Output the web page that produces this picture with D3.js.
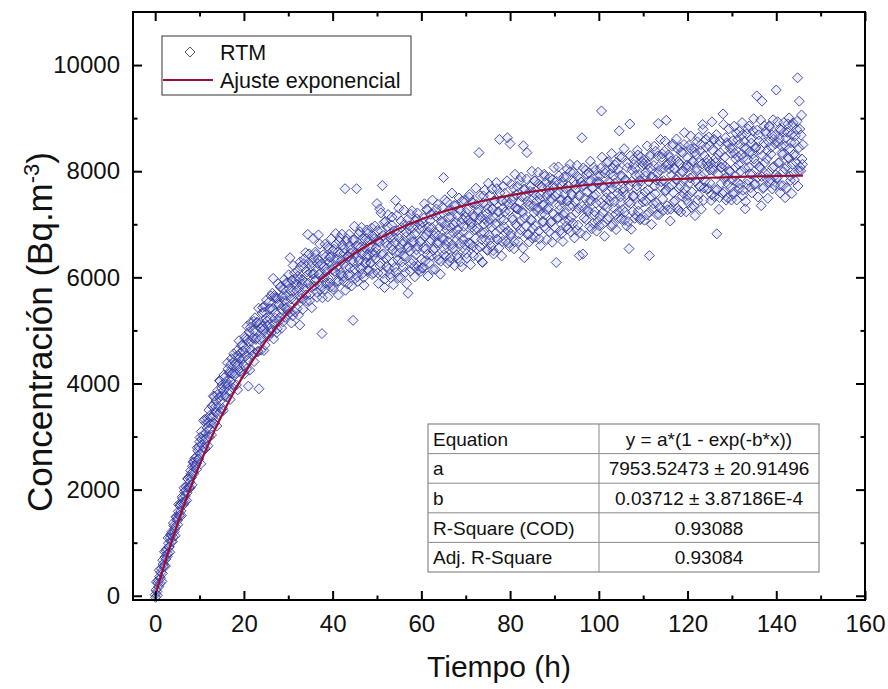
<!DOCTYPE html>
<html>
<head>
<meta charset="utf-8">
<title>RTM - ajuste exponencial</title>
<script src="https://d3js.org/d3.v7.min.js"></script>
<style>
  body { margin: 0; background: #fff; }
  text { font-family: "Liberation Sans", Arial, sans-serif; fill: #111; }
</style>
</head>
<body>
<svg id="chart" width="888" height="689"></svg>
<script>
// RTM readings, one array per 10 h block.
// A readings sit at 0.0, 0.2, 0.4 ... h, B readings half-way between (0.1, 0.3 ...)
var timeStep = 0.2;
var concA00 = [20,110,80,240,170,360,330,510,420,600, 570,730,690,880,800,990,920,1090,1020,1210,
  1110,1320,1260,1300,1480,1420,1590,1510,1690,1600, 1750,1830,1720,1960,1880,2050,1940,2200,2030,2140,
  2360,2230,2440,2340,2520,2430,2610,2500,2730,2570];
var concA10 = [2900,2677,3094,2841,3018,2775,3322,3069,2966,3343, 3260,2990,3400,3240,3580,3370,3260,3760,3560,3460,
  3790,3415,3740,4045,3680,3915,3530,3865,4110,3775, 4040,3943,4276,3859,4192,4045,4468,4191,3984,4417,
  4190,4508,4326,3880,4522,4470,4288,4716,4454,4612];
var concA20 = [4350,4885,4650,4275,4830,3950,4970,4635,5150,4625, 4860,5173,4566,4989,4852,5145,4608,3900,5134,5037,
  4860,5431,5012,5343,4724,5235,5176,4937,5528,5109, 5410,4960,5700,5980,5130,5620,5330,4960,5600,5510,
  5180,5818,5396,5634,5162,5770,5558,5416,5894,5382];
var concA30 = [5300,5787,6370,5591,5948,5275,5752,6079,5546,5873, 5410,6022,5794,5100,6208,5700,5952,5584,6346,5908,
  5670,6102,6810,6276,5558,6090,5812,6274,6730,6068, 5930,6430,5720,6260,6800,6060,6240,5830,4940,5980,
  6200,5779,6388,6107,6586,5985,6294,5893,6382,6231];
var concA40 = [6500,5817,6324,6091,6628,6205,6482,5929,6746,6083, 6320,6607,6022,6458,7670,6200,6726,5872,6398,6594,
  6040,6525,6330,5190,6710,6155,6460,7670,6010,6585, 6310,6855,6160,6435,6740,5995,6560,6265,6730,6385,
  6830,6125,6560,6265,6930,6465,6080,6725,6350,6555];
var concA50 = [7390,6083,6687,7290,6263,6867,7730,6443,7036,5970, 6653,6206,6960,6393,6806,6060,6593,7136,6290,6753,
  6186,7450,6474,6878,5992,6736,6550,7064,6288,6682, 6406,7000,6094,6848,6562,5700,6970,6494,7188,6262,
  6666,6931,6206,6821,6426,7101,6586,6141,6996,6671];
var concA60 = [6340,6935,6179,7114,6768,6533,7278,6432,6857,6271, 7066,6701,6935,6150,7204,6549,6844,7288,6403,6787,
  6652,7167,6301,7036,6740,7880,6530,6985,6400,7425, 6680,7135,6300,6935,7270,6615,6840,7355,6520,7035,
  6420,7155,6800,7275,6290,7025,7440,6715,6960,6615];
var concA70 = [7140,6445,7280,6786,7511,6626,7041,6946,7402,6407, 7142,6737,7372,6918,7273,8350,6573,7138,6714,6280,
  7534,6839,7094,7370,6525,7290,7016,6702,7538,6944, 7280,6506,7442,7128,6834,7670,6706,7232,8600,6914,
  7450,6676,7302,7078,7584,6840,7436,8630,6648,7254];
var concA80 = [8520,6824,7448,7082,7676,6670,7314,7558,6972,7286, 6820,7824,7068,7522,7216,8480,6370,7658,6962,8350,
  7430,6814,7348,7712,7076,6740,7603,7216,7820,6963, 7436,7309,7762,6726,7559,7182,7705,7058,7362,7905,
  6918,7531,7284,7698,6861,7614,7447,7050,7844,7187];
var concA90 = [7690,6933,6280,7578,7131,7914,7277,7460,6822,7805, 7178,7561,7054,7896,7439,6912,7715,7348,7990,7133,
  7546,7019,7812,7424,7667,6890,7903,7296,6410,7543, 7796,8630,6440,7736,7289,8022,7085,7608,7242,7965,
  7448,7811,6914,7688,7531,7174,8017,7400,7804,7057];
var concA100 = [7800,7154,8057,9135,6994,7688,7352,7965,7499,8162, 7096,7800,7443,7957,6960,7674,8058,7301,7775,7188,
  8162,7586,7109,8760,7916,7410,8264,7278,7672,7076, 7840,7554,8068,7052,6540,8890,7394,7808,7242,8226,
  7530,8054,7168,7722,8306,7370,7924,7108,7812,8176];
var concA110 = [7420,8204,7608,7982,7176,8130,7804,6410,8282,7516, 7880,7294,8108,7722,8376,7400,7954,8900,7182,8016,
  7710,8264,7478,7822,8376,7620,8960,7348,8132,7696, 8260,7284,7928,8472,7596,8050,7444,8218,7842,8416,
  7260,8144,7718,8362,7526,7990,8504,7658,8062,7466];
var concA120 = [8250,7404,8088,7872,8416,7610,8184,7348,8362,7806, 8000,8554,7558,8162,7716,8500,7904,8880,7452,8296,
  7820,8454,7658,8092,8646,7780,8144,7558,8402,8016, 8600,7654,8248,6820,7946,8500,7504,8348,7772,8136,
  9080,7604,8268,8632,7896,7500,8514,8018,8432,7696];
var concA130 = [7840,8573,7606,8340,8073,8716,7789,8272,7676,8509, 8002,8675,7538,8252,8565,7290,8431,7754,8798,8081,
  8364,7687,8530,7944,8757,8230,7763,8456,9420,7883, 8686,8089,8412,7350,9320,7672,8535,8158,8752,7865,
  8388,7961,8854,7788,8321,8684,8067,8600,7734,8517];
var concA140 = [9530,7882,8543,8165,8797,7729,8470,8312,7994,8735, 7500,8629,8090,8892,8244,8426,7827,8689,8131,8912,
  7964,8536,8297,8789,9760,8000,9320,8076,8678,8229,8501];

var concB00 = [-30,260,10,290,480,230,440,270,670,550, 830,560,840,740,1090,920,820,1160,1140,1020,
  1370,1210,1130,1490,1440,1340,1720,1510,1720,1510, 1865,1765,2035,1775,1985,1795,2205,2045,2235,2035,
  2300,2090,2520,2300,2580,2460,2380,2790,2580,2800];
var concB10 = [2982,2487,2952,2727,3302,2947,2772,3247,3162,2827, 3500,3140,3360,3030,3570,3760,3240,3470,3670,3200,
  3867,3562,4057,3462,3767,3972,3487,4162,3757,3992, 3746,4389,3972,4215,3698,4361,4184,3917,4560,4153,
  4374,3972,4620,4358,4806,4234,4582,4190,4728,4476];
var concB20 = [4182,4847,4522,5077,4452,4787,4252,5057,4802,4527, 4991,4414,5237,4830,5153,4596,5419,4832,5055,4628,
  5330,5081,4622,5453,4944,5575,5096,4887,5408,5219, 5650,5020,5400,4840,5660,5230,5610,5030,5880,5480,
  5249,5827,5045,5653,5461,5959,5247,5655,5433,5901];
var concB30 = [6048,5335,5742,5139,5946,6223,5580,5347,5954,5751, 6126,5288,5960,6292,5604,5876,5398,6260,5782,6464,
  5556,6048,5890,6442,5684,6206,5428,6060,6362,5834, 6475,5965,5625,6335,6055,6625,5775,6255,5615,6425,
  6005,6624,5893,6172,5631,6550,6379,5818,6727,6146];
var concB40 = [5774,6531,6118,6825,5922,6349,5666,6683,6450,6037, 6813,6259,5925,6541,5757,6683,6389,6045,6811,6177,
  6453,5838,6703,6288,6963,5978,6593,6378,5923,6818, 6173,6568,6943,6068,6463,5853,6703,6288,6893,6428,
  6143,6718,6273,6578,6053,6778,6413,6968,6473,6698];
var concB50 = [6882,5885,6659,6212,7215,6428,6072,6785,5808,7052, 6355,6598,7182,6165,6748,5992,6985,6518,5861,6875,
  6658,6092,7166,6330,7304,6458,5992,6936,6630,6194, 7268,6392,6766,5880,7094,6568,6912,6116,6760,7254,
  6318,6673,6008,7063,6518,7213,6208,6913,6678,6113];
var concB60 = [6172,7037,6551,7386,6310,6805,7280,6024,6949,6673, 7188,6413,7457,6512,6786,6151,7156,6650,7375,6329,
  6944,6059,7063,7318,6712,6427,7462,6616,6901,6265, 7250,6815,6369,7144,7588,6543,6988,6222,7347,6701,
  6896,6361,7495,6640,7254,6199,7094,6848,7453,6517];
var concB70 = [7223,6368,7073,6649,7564,6239,7004,7419,6585,7150, 6895,7680,6535,7231,6376,7091,7536,6841,6287,7402,
  7007,7642,6707,7193,6508,7773,6799,7105,6591,7667, 7293,6439,7445,7001,7787,6723,7239,6555,7591,7107,
  6403,7439,7715,6951,7237,6673,7819,6875,7371,6577];
var concB80 = [6782,7756,7120,7524,6538,7942,6996,7290,7714,6678, 7412,6896,7890,7244,6548,7662,7116,7530,7854,6808,
  7372,6666,7620,7094,7998,6921,7344,7817,6761,7544, 7257,7980,6874,7477,6600,7713,7366,7040,7943,7176,
  7789,6712,7566,7319,7882,7035,7488,6662,7725,8068];
var concB90 = [7531,6784,7807,7109,8082,7355,6878,7731,7463,6676, 7889,7222,7675,6967,8040,7443,7066,8129,6851,7574,
  7347,7980,6743,7745,7218,8111,6984,7537,7861,6834, 7717,7340,8063,7117,7490,6783,7946,7279,7813,6956,
  8189,7442,7675,7019,8072,7235,7558,6871,7905,7768];
var concB100 = [6972,7916,7409,8263,7226,7700,6774,8027,7601,7314, 8178,7132,7785,7519,8332,6986,7910,7423,8117,6900,
  7694,8038,7241,8275,7518,7092,7906,7610,8424,7228, 7822,6966,8150,7414,7718,8292,6906,8020,7534,8128,
  7112,7926,7660,8394,7248,7822,7086,8270,7514,8098];
var concB110 = [8142,7076,7910,7434,8478,7652,7226,8060,8314,6998, 7892,7386,8470,7574,7834,7182,8286,8090,7314,8598,
  7802,8326,7260,8054,8568,7642,8126,7274,8310,8044, 7062,8190,7738,8512,7426,8034,7848,8606,7302,8178,
  7682,8448,7232,7994,8348,7582,8726,7850,7234,8118];
var concB120 = [7542,8486,7780,8665,7318,8182,7906,8430,7164,8318, 8052,7456,8641,7716,8380,7284,8138,8790,7684,7958,
  8602,8156,8220,7672,8478,8022,7446,8930,8066,8598, 7522,8166,8690,7654,8318,7282,8566,8070,8074,7578,
  8882,7856,8090,7454,8538,7762,8798,7990,8342,7458];
var concB130 = [8432,7565,8848,7902,8225,7458,8591,8124,8748,7751, 8314,8917,7640,8444,8057,7430,8703,8216,7830,8853,
  7946,8609,7592,8326,8989,7742,8425,8138,8772,7515, 8568,8071,8964,7898,8291,7694,8857,7960,8714,8237,
  7490,8553,8836,7840,8453,7666,8969,8092,8676,7929];
var concB140 = [7861,8933,8154,8606,7588,8780,8351,7729,8915,8046, 8478,7689,8731,8263,9005,7907,8538,7580,8862,8313,
  7835,8667,8168,8940,7722,8443,8795,8007,9059,8130];

// fitted curve
var fitTime = [0,2.5,5,7.5,10,12.5,15,17.5,20,25,30,35,40,45,50,55,60,65,70,75,80,85,90,95,100,105,110,115,120,125,130,135,140,145,146];
var fitConc = [0,705,1347,1933,2466,2952,3395,3800,4168,4809,5342,5784,6152,6456,6710,6921,7096,7241,7362,7462,7545,7615,7672,7720,7759,7792,7819,7842,7861,7877,7890,7901,7910,7917,7918];

var xTicks = [0,20,40,60,80,100,120,140,160];
var xMinor = [10,30,50,70,90,110,130,150];
var yTicks = [0,2000,4000,6000,8000,10000];
var yMinor = [1000,3000,5000,7000,9000];

var tableRows = [
  ["Equation", "y = a*(1 - exp(-b*x))"],
  ["a", "7953.52473 \u00b1 20.91496"],
  ["b", "0.03712 \u00b1 3.87186E-4"],
  ["R-Square (COD)", "0.93088"],
  ["Adj. R-Square", "0.93084"]
];

var svg = d3.select("#chart");
var plot = {left: 133, right: 865, top: 12, bottom: 600};

var x = d3.scaleLinear().domain([-5, 160]).range([plot.left, plot.right]);
var y = d3.scaleLinear().domain([-80, 11000]).range([plot.bottom, plot.top]);

var blocksA = [concA00, concA10, concA20, concA30, concA40, concA50, concA60, concA70,
  concA80, concA90, concA100, concA110, concA120, concA130, concA140];
var blocksB = [concB00, concB10, concB20, concB30, concB40, concB50, concB60, concB70,
  concB80, concB90, concB100, concB110, concB120, concB130, concB140];
var rtm = [];
function addBlocks(blocks, offset) {
  blocks.forEach(function(block, b) {
    block.forEach(function(v, i) {
      rtm.push({t: b * 10 + offset + i * timeStep, c: v});
    });
  });
}
addBlocks(blocksA, 0);
addBlocks(blocksB, timeStep / 2);
rtm.sort(function(p, q) { return p.t - q.t; });

var diamond = "M0,-5L5,0L0,5L-5,0Z";
var ptColor = "#30309a";
var fitColor = "#9c0f31";

// points
svg.append("g").selectAll("path")
  .data(rtm)
  .enter().append("path")
    .attr("d", diamond)
    .attr("transform", function(d) { return "translate(" + x(d.t) + "," + y(d.c) + ")"; })
    .attr("fill", "rgba(150,170,240,0.18)")
    .attr("stroke", ptColor)
    .attr("stroke-width", 0.95)
    .attr("stroke-opacity", 0.9);

// fit
var fitLine = d3.line()
  .x(function(d, i) { return x(fitTime[i]); })
  .y(function(d) { return y(d); })
  .curve(d3.curveMonotoneX);

svg.append("path")
  .attr("d", fitLine(fitConc))
  .attr("fill", "none")
  .attr("stroke", fitColor)
  .attr("stroke-width", 2.2);

// axes
function addAxis(axis, tr, labels) {
  var g = svg.append("g").attr("transform", tr).call(axis);
  g.select(".domain").remove();
  g.selectAll(".tick line").attr("stroke", "#000").attr("stroke-width", 2);
  if (labels) {
    g.selectAll(".tick text").attr("font-size", 24).attr("fill", "#111")
      .attr("font-family", "'Liberation Sans', Arial, sans-serif");
  }
  return g;
}

var fmt = d3.format("d");
addAxis(d3.axisBottom(x).tickValues(xTicks).tickFormat(fmt).tickSizeInner(-9).tickSizeOuter(0).tickPadding(15),
  "translate(0," + plot.bottom + ")", true);
addAxis(d3.axisBottom(x).tickValues(xMinor).tickSize(-4.5).tickFormat(""),
  "translate(0," + plot.bottom + ")");
addAxis(d3.axisTop(x).tickValues(xTicks).tickSize(-9).tickFormat(""),
  "translate(0," + plot.top + ")");
addAxis(d3.axisTop(x).tickValues(xMinor).tickSize(-4.5).tickFormat(""),
  "translate(0," + plot.top + ")");

addAxis(d3.axisLeft(y).tickValues(yTicks).tickFormat(fmt).tickSizeInner(-9).tickSizeOuter(0).tickPadding(13),
  "translate(" + plot.left + ",0)", true);
addAxis(d3.axisLeft(y).tickValues(yMinor).tickSize(-4.5).tickFormat(""),
  "translate(" + plot.left + ",0)");
addAxis(d3.axisRight(y).tickValues(yTicks).tickSize(-9).tickFormat(""),
  "translate(" + plot.right + ",0)");
addAxis(d3.axisRight(y).tickValues(yMinor).tickSize(-4.5).tickFormat(""),
  "translate(" + plot.right + ",0)");

svg.append("rect")
  .attr("x", plot.left).attr("y", plot.top)
  .attr("width", plot.right - plot.left).attr("height", plot.bottom - plot.top)
  .attr("fill", "none").attr("stroke", "#000").attr("stroke-width", 2);

// axis titles
svg.append("text")
  .attr("x", (plot.left + plot.right) / 2).attr("y", 677)
  .attr("text-anchor", "middle").attr("font-size", 30)
  .text("Tiempo (h)");

var yt = svg.append("text")
  .attr("transform", "translate(52,332) rotate(-90)")
  .attr("text-anchor", "middle").attr("font-size", 35);
yt.append("tspan").text("Concentración (Bq.m");
yt.append("tspan").attr("font-size", 22).attr("dy", -13).text("-3");
yt.append("tspan").attr("dy", 13).text(")");

// legend
var leg = svg.append("g");
leg.append("rect").attr("x", 162).attr("y", 36).attr("width", 249).attr("height", 59)
  .attr("fill", "#fff").attr("stroke", "#333").attr("stroke-width", 1);
leg.append("path").attr("d", diamond).attr("transform", "translate(190,52)")
  .attr("fill", "none").attr("stroke", "#555").attr("stroke-width", 1);
leg.append("text").attr("x", 220).attr("y", 60).attr("font-size", 21.5).text("RTM");
leg.append("line").attr("x1", 163).attr("x2", 213).attr("y1", 80).attr("y2", 80)
  .attr("stroke", fitColor).attr("stroke-width", 2.2);
leg.append("text").attr("x", 220).attr("y", 88).attr("font-size", 21.5).text("Ajuste exponencial");

// results table
var tbl = {left: 428, right: 819, split: 599, top: 424, rowH: 29.6};
var tg = svg.append("g");
tg.append("rect").attr("x", tbl.left).attr("y", tbl.top)
  .attr("width", tbl.right - tbl.left).attr("height", tbl.rowH * tableRows.length)
  .attr("fill", "#fff").attr("stroke", "#8a8a8a").attr("stroke-width", 1.2);
tg.append("line").attr("x1", tbl.split).attr("x2", tbl.split)
  .attr("y1", tbl.top).attr("y2", tbl.top + tbl.rowH * tableRows.length)
  .attr("stroke", "#8a8a8a").attr("stroke-width", 1);
tableRows.forEach(function(r, i) {
  var ty = tbl.top + i * tbl.rowH;
  if (i > 0) {
    tg.append("line").attr("x1", tbl.left).attr("x2", tbl.right).attr("y1", ty).attr("y2", ty)
      .attr("stroke", "#8a8a8a").attr("stroke-width", 1);
  }
  tg.append("text").attr("x", tbl.left + 5).attr("y", ty + tbl.rowH / 2 + 7)
    .attr("font-size", 19).attr("fill", "#222").text(r[0]);
  tg.append("text").attr("x", (tbl.split + tbl.right) / 2).attr("y", ty + tbl.rowH / 2 + 7)
    .attr("text-anchor", "middle").attr("font-size", 19).attr("fill", "#222").text(r[1]);
});
</script>
</body>
</html>
